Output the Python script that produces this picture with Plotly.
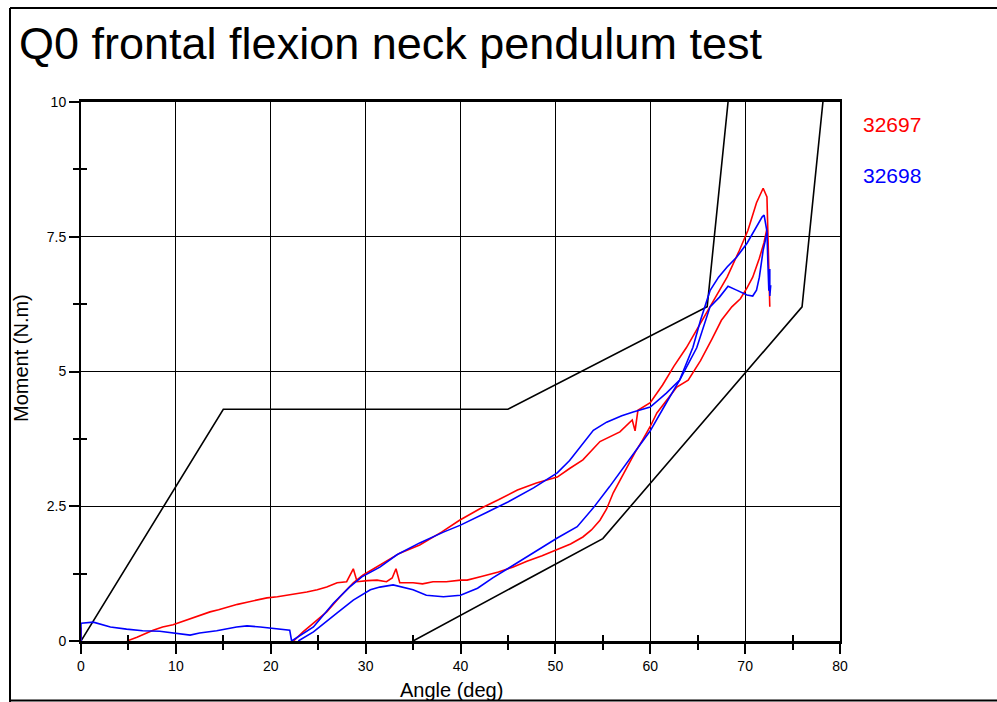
import plotly.graph_objects as go

# ---------------- data ----------------
corr_upper_x = [0, 15, 45, 66, 68.2]
corr_upper_y = [0, 4.3, 4.3, 6.2, 10]
corr_lower_x = [35, 55, 76, 78.2]
corr_lower_y = [0, 1.9, 6.2, 10]

# test 32697 (red)
red_start_x = [0, 0]
red_start_y = [0, 0.25]
red_low_x = [4.85, 5.9, 7.6, 8.6, 9.7, 10.8, 11.8, 12.7, 13.6, 14.5, 15.4, 16.5, 17.5, 18.6, 19.6, 20.7, 21.7, 22.8, 23.8,
             24.9, 25.9, 27.0, 28.0, 28.7, 29.1, 30.2, 31.2, 32.2, 32.8, 33.2, 33.6, 35.0, 36.0, 37.1, 38.5, 40.0,
             40.7, 42.3, 44.0, 45.5, 47.0, 48.6, 50.2, 51.6, 52.9, 53.8, 54.7, 55.4, 56.1, 56.8, 57.5, 58.4,
             59.2, 60.0, 60.7, 61.8, 62.8, 64.0, 65.3, 66.5, 67.5, 68.6, 69.5, 70.2, 70.8, 71.5, 72.0, 72.3]
red_low_y = [0.0, 0.07, 0.2, 0.26, 0.3, 0.37, 0.43, 0.49, 0.54, 0.58, 0.63, 0.68, 0.72, 0.76, 0.8, 0.82, 0.85, 0.87, 0.91,
             0.95, 1.0, 1.08, 1.1, 1.34, 1.1, 1.12, 1.13, 1.1, 1.17, 1.34, 1.08, 1.08, 1.06, 1.1, 1.1, 1.13,
             1.13, 1.2, 1.28, 1.37, 1.48, 1.58, 1.69, 1.8, 1.93, 2.06, 2.24, 2.45, 2.75, 2.98, 3.23, 3.5,
             3.73, 3.98, 4.23, 4.48, 4.71, 4.84, 5.2, 5.6, 5.95, 6.2, 6.35, 6.55, 6.75, 7.1, 7.4, 7.65]
red_up_x = [22.4, 23.4, 24.5, 25.9, 27.3, 28.7, 29.7, 31.5, 33.6, 35.7, 38.0, 39.9, 42.0, 44.0, 46.0, 48.0, 50.2,
            51.5, 52.9, 54.7, 56.8, 58.1, 58.4, 58.7, 60.0, 61.3, 62.5, 63.8, 65.0, 66.3, 68.1, 69.4, 70.3, 71.2,
            71.9, 72.3, 72.4, 72.6]
red_up_y = [0.0, 0.17, 0.33, 0.54, 0.82, 1.08, 1.22, 1.41, 1.63, 1.78, 2.02, 2.24, 2.45, 2.62, 2.8, 2.93, 3.04,
            3.2, 3.36, 3.7, 3.88, 4.1, 3.9, 4.28, 4.42, 4.75, 5.1, 5.44, 5.8, 6.2, 6.75, 7.25, 7.62, 8.13,
            8.4, 8.24, 7.62, 6.2]

# test 32698 (blue)
blue_start_x = [0, 0, 1.3, 2.2, 3.1, 4.8, 6.5, 8.3, 9.7, 11.5, 12.5, 14.3, 16.4, 17.5, 18.9, 20.7, 22.0, 22.2]
blue_start_y = [0, 0.33, 0.35, 0.3, 0.26, 0.22, 0.19, 0.18, 0.15, 0.11, 0.15, 0.19, 0.26, 0.28, 0.26, 0.22, 0.2, 0.0]
blue_up_x = [22.2, 22.8, 24.5, 26.6, 28.3, 29.6, 31.5, 33.3, 35.7, 38.2, 40.0, 42.8, 45.0, 47.7, 50.2, 51.5, 52.9,
             54.0, 55.4, 57.0, 58.2, 60.0, 61.7, 63.1, 64.5, 65.3, 66.3, 67.2, 68.1, 69.1, 70.2, 71.2, 71.8, 72.0,
             72.3, 72.4, 72.5, 72.6, 72.6, 72.7, 72.6]
blue_up_y = [0.0, 0.07, 0.26, 0.7, 1.0, 1.19, 1.37, 1.6, 1.82, 2.02, 2.15, 2.39, 2.58, 2.84, 3.12, 3.35, 3.67,
             3.91, 4.06, 4.18, 4.25, 4.34, 4.6, 4.84, 5.45, 5.95, 6.5, 6.75, 6.94, 7.12, 7.38, 7.68, 7.87, 7.9,
             7.6, 7.0, 6.5, 6.9, 6.45, 6.6, 6.4]
blue_low_x = [22.9, 24.5, 27.0, 28.7, 30.5, 31.5, 32.9, 35.0, 36.4, 38.2, 40.0, 41.8, 43.4, 45.5, 47.6, 50.2, 52.3,
              54.0, 55.7, 57.5, 60.0, 61.7, 63.1, 64.9, 66.3, 67.3, 68.2, 69.1, 70.2, 70.8, 71.2, 71.5, 71.9, 72.3]
blue_low_y = [0.0, 0.17, 0.52, 0.76, 0.95, 1.0, 1.04, 0.95, 0.85, 0.82, 0.85, 0.98, 1.17, 1.4, 1.63, 1.91, 2.12,
              2.47, 2.86, 3.3, 3.9, 4.42, 4.84, 5.44, 6.2, 6.38, 6.58, 6.51, 6.42, 6.4, 6.51, 6.75, 7.25, 7.57]

series_names = ["32697", "32698"]
x_ticks = [0, 10, 20, 30, 40, 50, 60, 70, 80]
x_minor_ticks = [5, 15, 25, 35, 45, 55, 65, 75]
y_ticks = [0, 2.5, 5, 7.5, 10]
y_tick_text = ["0", "2.5", "5", "7.5", "10"]
y_minor_ticks = [1.25, 3.75, 6.25, 8.75]

# ---------------- figure ----------------
FONT = "Liberation Sans, Arial, sans-serif"
RED = "#ff0000"
BLUE = "#0000ff"


def join(*parts):
    xs, ys = [], []
    for i, (px_, py_) in enumerate(parts):
        if i:
            xs.append(None)
            ys.append(None)
        xs.extend(px_)
        ys.extend(py_)
    return xs, ys


fig = go.Figure()
fig.add_trace(go.Scatter(x=corr_upper_x, y=corr_upper_y, mode="lines",
                         line=dict(color="black", width=1.6), showlegend=False, hoverinfo="skip"))
fig.add_trace(go.Scatter(x=corr_lower_x, y=corr_lower_y, mode="lines",
                         line=dict(color="black", width=1.6), showlegend=False, hoverinfo="skip"))

rx, ry = join((red_start_x, red_start_y), (red_low_x, red_low_y), (red_up_x, red_up_y))
bx, by = join((blue_start_x, blue_start_y), (blue_up_x, blue_up_y), (blue_low_x, blue_low_y))
fig.add_trace(go.Scatter(x=rx, y=ry, mode="lines", name=series_names[0],
                         line=dict(color=RED, width=1.6), showlegend=False, connectgaps=False))
fig.add_trace(go.Scatter(x=bx, y=by, mode="lines", name=series_names[1],
                         line=dict(color=BLUE, width=1.6), showlegend=False, connectgaps=False))
# placeholder trace on overlay axes (for the inner half of the crossing minor ticks)
fig.add_trace(go.Scatter(x=[None], y=[None], xaxis="x2", yaxis="y2", mode="lines",
                         showlegend=False, hoverinfo="skip"))

PL, PR, PT, PB = 81, 840, 102, 641
W, H = 997, 702
pw, ph = PR - PL, PB - PT


def px(xpix):
    return (xpix - PL) / pw


def py(ypix):
    return (PB - ypix) / ph


fig.update_layout(
    width=W, height=H,
    margin=dict(l=PL, r=W - PR, t=PT, b=H - PB, pad=0),
    paper_bgcolor="white", plot_bgcolor="white",
    font=dict(family=FONT, color="black", size=14),
    xaxis=dict(range=[0, 80], tickvals=x_ticks, ticks="outside", ticklen=10, tickwidth=2,
               tickcolor="black", showgrid=True, gridcolor="black", gridwidth=1,
               showline=True, linecolor="black", linewidth=3, mirror=True, zeroline=False,
               tickfont=dict(size=14, family=FONT),
               minor=dict(tickvals=x_minor_ticks, ticks="outside", ticklen=6,
                          tickwidth=2, tickcolor="black", showgrid=False)),
    yaxis=dict(range=[0, 10], tickvals=y_ticks, ticktext=y_tick_text, ticks="outside", ticklen=10,
               tickwidth=2, tickcolor="black", showgrid=True, gridcolor="black", gridwidth=1,
               showline=True, linecolor="black", linewidth=2, mirror=True, zeroline=False,
               tickfont=dict(size=14, family=FONT),
               minor=dict(tickvals=y_minor_ticks, ticks="outside", ticklen=6,
                          tickwidth=2, tickcolor="black", showgrid=False)),
    xaxis2=dict(overlaying="x", anchor="y2", range=[0, 80], tickvals=x_minor_ticks,
                ticks="inside", ticklen=6, tickwidth=2, tickcolor="black", showticklabels=False,
                showgrid=False, showline=False, zeroline=False, side="bottom"),
    yaxis2=dict(overlaying="y", anchor="x2", range=[0, 10], tickvals=y_minor_ticks,
                ticks="inside", ticklen=6, tickwidth=2, tickcolor="black", showticklabels=False,
                showgrid=False, showline=False, zeroline=False, side="left"),
    shapes=[
        dict(type="line", xref="paper", yref="paper", x0=px(10), x1=px(10), y0=py(702), y1=py(8),
             line=dict(color="black", width=2)),
        dict(type="line", xref="paper", yref="paper", x0=px(10), x1=px(997), y0=py(8), y1=py(8),
             line=dict(color="black", width=2)),
        dict(type="line", xref="paper", yref="paper", x0=px(10), x1=px(997), y0=py(700.5), y1=py(700.5),
             line=dict(color="black", width=2)),
    ],
    annotations=[
        dict(text="Q0 frontal flexion neck pendulum test", xref="paper", yref="paper",
             x=px(17), y=py(71), xanchor="left", yanchor="bottom", showarrow=False,
             font=dict(size=45, family=FONT, color="black")),
        dict(text="Angle (deg)", xref="paper", yref="paper", x=px(451), y=py(690),
             xanchor="center", yanchor="middle", showarrow=False,
             font=dict(size=20, family=FONT, color="black")),
        dict(text="Moment (N.m)", xref="paper", yref="paper", x=px(21), y=py(358),
             xanchor="center", yanchor="middle", textangle=-90, showarrow=False,
             font=dict(size=20, family=FONT, color="black")),
        dict(text=series_names[0], xref="paper", yref="paper", x=px(861), y=py(125),
             xanchor="left", yanchor="middle", showarrow=False,
             font=dict(size=21, family=FONT, color=RED)),
        dict(text=series_names[1], xref="paper", yref="paper", x=px(861), y=py(175),
             xanchor="left", yanchor="middle", showarrow=False,
             font=dict(size=21, family=FONT, color=BLUE)),
    ],
)

fig.write_html("out.html")
